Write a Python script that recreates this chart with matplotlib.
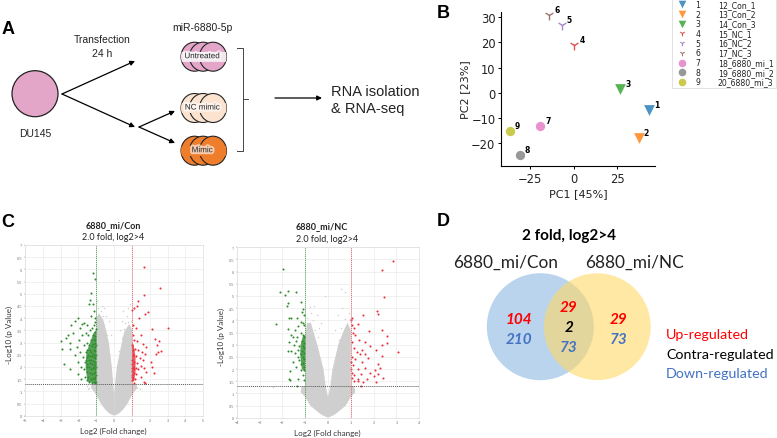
#!/usr/bin/env python3
import matplotlib.pyplot as plt
import matplotlib.patheffects as pe
from matplotlib.patches import Circle, Ellipse, Rectangle

plt.rcParams["font.family"] = ["Liberation Sans", "DejaVu Sans"]

# panel B
pc1 = [42.9, 37.2, 26.5, 0.2, -6.9, -14.0, -19.3, -30.9, -36.6]
pc2 = [-6.9, -18.2, 1.5, 18.9, 26.8, 30.8, -13.4, -24.9, -15.2]
sample_ids = ["1", "2", "3", "4", "5", "6", "7", "8", "9"]
sample_names = ["12_Con_1", "13_Con_2", "14_Con_3", "15_NC_1", "16_NC_2", "17_NC_3",
                "18_6880_mi_1", "19_6880_mi_2", "20_6880_mi_3"]
sample_markers = ["v", "v", "v", "1", "1", "1", "o", "o", "o"]
sample_colors = ["#1f77b4", "#ff7f0e", "#2ca02c", "#d62728", "#9467bd", "#8c564b",
                 "#e377c2", "#7f7f7f", "#bcbd22"]

# panel C, volcano 6880_mi/Con
con_gray_left = [(0.0, 0.0), (-0.25, 0.08), (-0.5, 0.25), (-0.75, 0.5), (-1.0, 0.85), (-1.3, 1.15),
                 (-1.25, 1.3), (-1.0, 1.3), (-1.0, 4.0), (-0.85, 4.2), (-0.62, 3.95), (-0.45, 3.5),
                 (-0.3, 3.0), (-0.13, 2.0), (-0.05, 1.3), (0.0, 0.85)]
con_gray_right = [(0.0, 0.85), (0.05, 1.3), (0.15, 2.0), (0.43, 3.0), (0.55, 3.4), (0.7, 3.6),
                  (0.85, 3.75), (1.0, 3.55), (1.0, 1.3), (1.25, 1.3), (1.3, 1.15), (1.0, 0.85),
                  (0.75, 0.5), (0.5, 0.25), (0.25, 0.08), (0.0, 0.0)]
con_gray_pts = [(-0.9, 4.4), (-0.7, 4.5), (-0.45, 4.1), (-0.3, 3.9), (-0.55, 4.4), (0.3, 5.55),
                (0.45, 3.9), (0.5, 4.3), (0.7, 4.1), (0.8, 4.4), (0.9, 4.6), (-0.95, 4.7),
                (-1.4, 1.15), (-1.5, 1.22), (1.3, 1.15), (0.6, 3.8), (-0.2, 3.3), (0.35, 3.5),
                (-0.55, 3.7), (-0.42, 3.3), (0.42, 3.2), (0.55, 3.55), (0.75, 3.85), (0.95, 3.9),
                (-0.75, 4.3), (-0.6, 4.1), (-0.35, 2.95), (0.3, 2.65), (-1.45, 1.1), (1.45, 1.1)]
con_down_core = [(-1.0, 1.3), (-1.5, 1.4), (-1.6, 2.0), (-1.55, 2.6), (-1.35, 3.0), (-1.15, 3.4), (-1.0, 3.5)]
con_down = [(-3.0, 3.05), (-2.95, 2.75), (-2.8, 2.1), (-2.7, 3.2), (-2.6, 3.3), (-2.5, 3.0),
            (-2.5, 2.75), (-2.3, 3.4), (-2.5, 1.9), (-2.4, 3.7), (-2.2, 3.9), (-2.0, 4.0),
            (-1.9, 3.6), (-1.8, 3.75), (-1.7, 3.8), (-1.5, 3.7), (-1.4, 4.6), (-1.35, 4.75),
            (-1.3, 5.05), (-1.2, 4.6), (-1.15, 4.3), (-1.2, 5.85), (-1.05, 5.6), (-1.1, 4.0),
            (-1.3, 4.1), (-2.2, 2.5), (-2.1, 2.8), (-2.0, 2.2), (-2.0, 1.7), (-1.95, 3.1),
            (-1.9, 2.6), (-1.85, 2.0), (-1.85, 1.5), (-1.8, 3.3), (-1.75, 2.4), (-1.7, 2.9),
            (-1.7, 1.9), (-1.65, 2.2), (-1.65, 1.6), (-1.6, 3.4), (-1.6, 2.6), (-1.6, 2.3),
            (-1.55, 2.0), (-1.55, 1.45), (-1.5, 3.0), (-1.5, 2.7), (-1.5, 2.4), (-1.5, 2.1),
            (-1.5, 1.8), (-1.45, 3.3), (-1.45, 2.5), (-1.45, 1.6), (-1.4, 2.9), (-1.4, 2.3),
            (-1.4, 2.0), (-1.4, 1.4), (-1.35, 3.5), (-1.35, 2.7), (-1.35, 2.45), (-1.35, 2.15),
            (-1.35, 1.75), (-1.3, 3.1), (-1.3, 2.6), (-1.3, 2.3), (-1.3, 1.9), (-1.3, 1.5),
            (-1.25, 3.6), (-1.25, 2.85), (-1.25, 2.45), (-1.25, 2.1), (-1.25, 1.7), (-1.25, 1.35),
            (-1.2, 3.3), (-1.2, 2.95), (-1.2, 2.55), (-1.2, 2.25), (-1.2, 1.95), (-1.2, 1.55),
            (-1.15, 3.7), (-1.15, 3.15), (-1.15, 2.7), (-1.15, 2.4), (-1.15, 2.05), (-1.15, 1.75),
            (-1.15, 1.4), (-1.1, 3.45), (-1.1, 3.0), (-1.1, 2.8), (-1.1, 2.5), (-1.1, 2.2),
            (-1.1, 1.9), (-1.1, 1.6), (-1.1, 1.33), (-1.05, 3.85), (-1.05, 3.25), (-1.05, 3.1),
            (-1.05, 2.65), (-1.05, 2.35), (-1.05, 2.1), (-1.05, 1.8), (-1.05, 1.5), (-1.02, 3.55),
            (-1.02, 2.9), (-1.02, 2.5), (-1.02, 2.0), (-1.02, 1.65), (-1.02, 1.38)]
con_up_core = [(1.0, 1.4), (1.12, 1.4), (1.2, 1.8), (1.2, 2.4), (1.1, 2.9), (1.0, 3.0)]
con_up = [(1.7, 6.1), (2.55, 5.25), (1.65, 4.95), (1.35, 4.7), (1.3, 4.5), (1.1, 4.4), (1.0, 4.35),
          (1.9, 4.25), (1.75, 4.15), (1.4, 4.0), (1.05, 3.7), (3.0, 3.6), (2.1, 3.55), (1.2, 3.6),
          (1.5, 3.3), (2.3, 3.15), (2.5, 3.05), (1.1, 3.1), (1.3, 3.05), (1.6, 2.95), (2.4, 2.9),
          (1.8, 2.8), (2.6, 2.65), (2.45, 2.6), (2.35, 2.55), (1.0, 2.9), (1.15, 2.75), (1.35, 2.7),
          (1.55, 2.6), (1.75, 2.55), (1.05, 2.5), (1.25, 2.45), (1.45, 2.35), (1.6, 2.3), (2.05, 2.2),
          (1.0, 2.3), (1.1, 2.2), (1.3, 2.15), (1.5, 2.05), (2.15, 2.0), (1.7, 1.95), (1.02, 2.1),
          (1.08, 2.0), (1.2, 1.95), (1.35, 1.9), (1.8, 1.8), (2.25, 1.75), (1.02, 1.85), (1.1, 1.75),
          (1.25, 1.7), (1.5, 1.6), (1.02, 1.65), (1.06, 1.55), (1.15, 1.5), (1.7, 1.4), (1.02, 1.45),
          (1.1, 1.35), (1.75, 1.35), (1.0, 1.95), (1.05, 2.7), (1.05, 3.3), (1.0, 1.6), (1.12, 1.9)]

# panel C, volcano 6880_mi/NC
nc_gray_left = [(0.0, 0.0), (-0.2, 0.08), (-0.4, 0.2), (-0.78, 0.5), (-1.0, 0.85), (-1.2, 1.05),
                (-1.15, 1.3), (-1.0, 1.3), (-1.0, 3.4), (-0.92, 3.9), (-0.75, 3.9), (-0.47, 3.0),
                (-0.2, 2.0), (-0.1, 1.3), (0.0, 0.85)]
nc_gray_right = [(0.0, 0.85), (0.1, 1.3), (0.2, 2.0), (0.45, 3.0), (0.7, 3.6), (0.85, 3.9),
                 (1.0, 3.6), (1.0, 1.3), (1.15, 1.3), (1.2, 1.05), (1.0, 0.85), (0.78, 0.5),
                 (0.4, 0.2), (0.2, 0.08), (0.0, 0.0)]
nc_gray_pts = [(-0.9, 4.1), (-0.75, 4.3), (-0.6, 4.6), (-0.5, 4.2), (-0.3, 3.9), (-0.15, 5.0),
               (0.55, 5.3), (0.75, 5.15), (0.45, 4.2), (0.6, 4.5), (0.75, 4.05), (0.9, 4.3),
               (-0.85, 3.8), (0.3, 3.6), (-2.4, 1.25), (-1.6, 1.3), (-0.65, 4.0), (-0.55, 3.6),
               (-0.45, 3.3), (0.48, 3.2), (0.58, 3.7), (-0.8, 4.55), (0.95, 4.05), (-0.4, 3.7)]
nc_down_core = [(-1.0, 1.9), (-1.15, 2.0), (-1.22, 2.6), (-1.2, 3.0), (-1.1, 3.35), (-1.0, 3.4)]
nc_down = [(-1.95, 6.1), (-2.1, 5.15), (-1.75, 5.2), (-1.9, 5.05), (-1.4, 5.15), (-1.75, 4.7),
           (-1.8, 4.6), (-1.2, 4.75), (-1.1, 4.45), (-1.15, 4.35), (-1.05, 4.2), (-1.7, 4.1),
           (-1.6, 4.1), (-1.35, 4.1), (-2.3, 3.85), (-1.2, 3.95), (-1.1, 3.9), (-1.3, 3.75),
           (-1.05, 3.8), (-1.75, 3.65), (-1.45, 3.6), (-1.2, 3.5), (-1.6, 3.4), (-1.1, 3.4),
           (-1.55, 3.3), (-1.35, 3.3), (-1.05, 3.3), (-1.7, 3.1), (-1.4, 3.15), (-1.15, 3.15),
           (-1.05, 3.05), (-1.5, 3.0), (-1.25, 2.95), (-1.1, 2.95), (-1.75, 2.75), (-1.6, 2.75),
           (-1.3, 2.8), (-1.05, 2.85), (-1.15, 2.75), (-1.45, 2.65), (-1.2, 2.6), (-1.05, 2.65),
           (-1.3, 2.5), (-1.1, 2.5), (-1.55, 2.3), (-1.25, 2.35), (-1.05, 2.4), (-1.2, 2.2),
           (-1.1, 2.25), (-1.4, 2.1), (-1.05, 2.1), (-1.65, 1.9), (-1.2, 1.95), (-1.05, 1.95),
           (-1.7, 1.6), (-1.3, 1.6), (-1.1, 1.75), (-1.65, 1.55), (-1.05, 1.55), (-1.35, 1.3)]
nc_up = [(2.85, 6.45), (2.35, 6.05), (2.45, 4.95), (2.15, 4.4), (2.2, 4.25), (1.55, 4.2), (1.05, 4.1),
         (1.0, 4.0), (1.3, 3.85), (1.05, 3.8), (1.15, 3.7), (1.8, 3.55), (2.35, 3.6), (1.1, 3.5),
         (1.2, 3.4), (2.6, 3.35), (1.35, 3.2), (1.05, 3.1), (1.6, 3.1), (2.6, 3.05), (1.85, 2.95),
         (2.35, 3.0), (1.15, 2.85), (1.5, 2.8), (2.1, 2.8), (3.05, 2.7), (1.25, 2.7), (1.4, 2.6),
         (1.6, 2.6), (2.35, 2.55), (1.05, 2.5), (1.75, 2.45), (1.2, 2.4), (1.0, 2.3), (1.5, 2.3),
         (2.2, 2.2), (1.1, 2.15), (1.6, 2.05), (2.3, 2.05), (1.0, 2.0), (1.3, 2.0), (2.05, 1.95),
         (1.05, 1.85), (1.85, 1.85), (1.45, 1.8), (2.2, 1.8), (1.15, 1.75), (2.0, 1.7), (1.05, 1.65),
         (1.3, 1.6), (1.7, 1.6), (2.4, 1.65), (1.15, 1.5), (1.55, 1.45), (2.1, 1.45), (1.3, 1.5),
         (1.45, 1.3)]

# panel D
venn_numbers = [
    ("104", 519, 320, "#FF0000"), ("210", 519, 340, "#4472C4"),
    ("29", 569, 308, "#FF0000"), ("2", 569, 328, "black"), ("73", 569, 348, "#4472C4"),
    ("29", 619, 320, "#FF0000"), ("73", 619, 340, "#4472C4"),
]
venn_key = [("Up-regulated", "#FF0000"), ("Contra-regulated", "black"), ("Down-regulated", "#4472C4")]

fig = plt.figure(figsize=(7.77, 4.39), dpi=100)
W, H = 777, 439


def add_axes_px(left, top, right, bottom):
    return fig.add_axes([left / W, 1 - bottom / H, (right - left) / W, (bottom - top) / H])


def volcano(box, xmax, gray_left, gray_right, gray_pts, down_core, down, up_core, up):
    ax = add_axes_px(*box)
    ax.fill(*zip(*gray_left), color="#cfcfcf", lw=0)
    ax.fill(*zip(*gray_right), color="#cfcfcf", lw=0)
    ax.scatter(*zip(*gray_pts), s=1.2, color="#cfcfcf", lw=0)
    ax.fill(*zip(*down_core), color="#2e8b2e", alpha=0.8, lw=0, zorder=2)
    if up_core:
        ax.fill(*zip(*up_core), color="#e8303a", alpha=0.8, lw=0, zorder=2)
    ax.scatter(*zip(*down), s=2.2, color="#2e8b2e", lw=0, zorder=3)
    ax.scatter(*zip(*up), s=2.2, color="#e8303a", lw=0, zorder=3)
    ax.axvline(-1, color="#4aa04a", lw=0.7, ls=(0, (1, 1)), zorder=4)
    ax.axvline(1, color="#e8606a", lw=0.7, ls=(0, (1, 1)), zorder=4)
    ax.axhline(1.3, color="#555555", lw=0.7, ls=(0, (1, 1)), zorder=4)
    ax.set_xlim(-xmax, xmax)
    ax.set_ylim(0, 7)
    ax.set_xticks(range(-xmax, xmax + 1))
    ax.set_yticks([i * 0.5 for i in range(15)], [f"{i * 0.5:g}" for i in range(15)])
    ax.tick_params(labelsize=2.8, length=1, width=0.3, pad=1, colors="#777777")
    ax.grid(color="#ececec", lw=0.5)
    ax.set_axisbelow(True)
    for spine in ax.spines.values():
        spine.set_color("#dddddd")
        spine.set_linewidth(0.5)


volcano((25, 246, 203.3, 416.7), 5, con_gray_left, con_gray_right, con_gray_pts,
        con_down_core, con_down, con_up_core, con_up)
volcano((236.7, 248.3, 419.3, 418.7), 4, nc_gray_left, nc_gray_right, nc_gray_pts,
        nc_down_core, nc_down, None, nc_up)

# PCA scatter
ax_b = add_axes_px(501, 12.7, 654.7, 167.3)
for x, y, sid, marker, color in zip(pc1, pc2, sample_ids, sample_markers, sample_colors):
    size = 60 if marker == "v" else (45 if marker == "o" else 50)
    ax_b.scatter(x, y, marker=marker, s=size, color=color, alpha=0.8,
                 linewidths=0 if marker != "1" else 1.0)
    ax_b.text(x + 3, y + 1.3, sid, fontsize=5.5, fontweight="bold", family="DejaVu Sans")
ax_b.set_xlim(-41.6, 46.4)
ax_b.set_ylim(-29.3, 32.2)
ax_b.set_xticks([-25, 0, 25])
ax_b.set_yticks([-20, -10, 0, 10, 20, 30])
ax_b.set_xlabel("PC1 [45%]", fontsize=8, family="DejaVu Sans", labelpad=2, color="#222222")
ax_b.set_ylabel("PC2 [23%]", fontsize=8, family="DejaVu Sans", labelpad=1, color="#222222")
ax_b.tick_params(labelsize=8.3, length=2.5, width=0.7, pad=1.5, labelcolor="#222222")
for label in ax_b.get_xticklabels() + ax_b.get_yticklabels():
    label.set_family("DejaVu Sans")
ax_b.spines[["top", "right"]].set_visible(False)

# overlay in pixel coordinates
ov = fig.add_axes([0, 0, 1, 1], zorder=10)
ov.set_xlim(0, W)
ov.set_ylim(H, 0)
ov.axis("off")
ov.patch.set_alpha(0)

# legend of panel B
ov.add_patch(Rectangle((672, -1), 104, 90, fc="white", ec="#dddddd", lw=0.6))
for i, (sid, name, marker, color) in enumerate(zip(sample_ids, sample_names, sample_markers, sample_colors)):
    y = 5.3 + i * 9.7
    ov.scatter(682, y, marker=marker, s=30 if marker != "1" else 16, color=color, alpha=0.8,
               linewidths=0 if marker != "1" else 0.8)
    ov.text(698, y, sid, fontsize=5.6, va="center", ha="center", family="DejaVu Sans", color="#222222")
    ov.text(717.7, y, name, fontsize=5.6, va="center", family="DejaVu Sans", color="#222222")

# panel letters
for letter, x, y in [("A", 2, 30), ("B", 437, 14), ("C", 1, 223), ("D", 437, 222)]:
    ov.text(x, y, letter, fontsize=13, fontweight="bold", va="center", ha="left")

# panel A
ov.add_patch(Circle((35, 94.7), 23, fc="#E3A6C8", ec="#222222", lw=0.9))
ov.text(35, 134.5, "DU145", fontsize=7.5, ha="center", va="center", color="#222222")
ov.text(102, 40, "Transfection", fontsize=7.5, ha="center", va="center", color="#222222")
ov.text(102, 54, "24 h", fontsize=7.5, ha="center", va="center", color="#222222")
ov.text(202, 28, "miR-6880-5p", fontsize=7.5, ha="center", va="center", color="#222222")
for start, end in [((62, 95), (135, 62)), ((62, 95), (135, 128)), ((139, 128), (175, 112)),
                   ((139, 128), (175, 144)), ((275, 99), (322, 99))]:
    ov.annotate("", xy=end, xytext=start,
                arrowprops=dict(arrowstyle="-|>", color="black", lw=0.9, shrinkA=0, shrinkB=0,
                                mutation_scale=7))
stacks = [(57.7, "#E3A6C8", "#F3E6EE", "Untreated"), (109, "#FBE3D0", "#FBE3D0", "NC mimic"),
          (151.7, "#EE7D2C", "#EE7D2C", "Mimic")]
for y, fill, mid, label in stacks:
    for x in (194.5, 203, 213):
        ell = Ellipse((x, y), 27, 29, fc=fill, ec="#222222", lw=0.8)
        ov.add_patch(ell)
        band = Rectangle((x - 14, y - 5), 28, 10, fc=mid, ec="none", zorder=1.5)
        ov.add_patch(band)
        band.set_clip_path(ell)
        ell.set_zorder(1)
    ov.text(202, y, label, fontsize=5.8, ha="center", va="center", color="#333333", zorder=4,
            path_effects=[pe.withStroke(linewidth=3, foreground="white", alpha=0.6)])
ov.plot([237, 243, 243, 237], [48.7, 48.7, 152, 152], color="#444444", lw=0.7)
ov.plot([243, 248], [100, 100], color="#444444", lw=0.7)
ov.text(331, 92, "RNA isolation", fontsize=10.5, va="center", color="#222222")
ov.text(331, 109, "& RNA-seq", fontsize=10.5, va="center", color="#222222")

# volcano titles, Calibri-like
for x, y, txt, weight, size in [
    (113, 226, "6880_mi/Con", "bold", 6.5), (113, 238, "2.0 fold, log2>4", "normal", 6.5),
    (322, 227, "6880_mi/NC", "bold", 6.5), (327, 240, "2.0 fold, log2>4", "normal", 6.5),
]:
    ov.text(x, y, txt, fontsize=size, fontweight=weight, ha="center", va="center", family="Lato", color="#222222")
ov.text(9, 335, "-Log10 (p Value)", fontsize=5.8, rotation=90, ha="center", va="center", family="Lato", color="#333333")
ov.text(221, 337, "-Log10 (p Value)", fontsize=5.8, rotation=90, ha="center", va="center", family="Lato", color="#333333")
ov.text(113, 431, "Log2 (Fold change)", fontsize=5.8, ha="center", va="center", family="Lato", color="#333333")
ov.text(327, 433, "Log2 (Fold change)", fontsize=5.8, ha="center", va="center", family="Lato", color="#333333")

# panel D
ov.add_patch(Circle((540.3, 327.7), 53.5, fc="#9DC3E6", alpha=0.7, lw=0))
ov.add_patch(Circle((597.3, 327.7), 53.4, fc="#FFD966", alpha=0.6, lw=0))
ov.text(568.5, 236, "2 fold, log2>4", fontsize=11, fontweight="bold", ha="center", va="center", family="Lato")
ov.text(506, 263, "6880_mi/Con", fontsize=12.4, ha="center", va="center", family="Lato", color="#222222")
ov.text(635, 263, "6880_mi/NC", fontsize=12.4, ha="center", va="center", family="Lato", color="#222222")
for txt, x, y, color in venn_numbers:
    ov.text(x, y, txt, fontsize=11, fontweight="bold", style="italic", color=color,
            ha="center", va="center", family="Lato")
for i, (txt, color) in enumerate(venn_key):
    ov.text(666, 335 + i * 19.7, txt, fontsize=10.3, color=color, va="center", family="Lato")

fig.savefig("out.png", dpi=100)
